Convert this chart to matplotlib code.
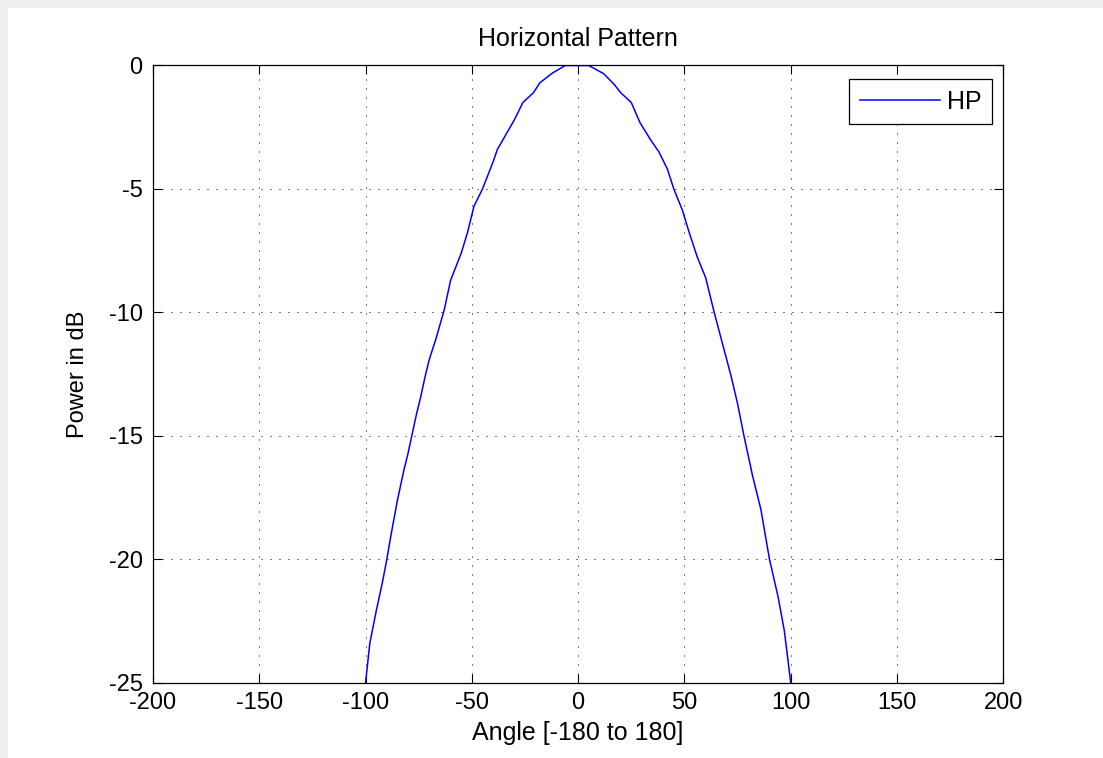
import matplotlib
matplotlib.use("Agg")
import matplotlib.pyplot as plt
from matplotlib.patches import Rectangle

plt.rcParams['font.family'] = ['Liberation Sans', 'DejaVu Sans']
plt.rcParams['axes.unicode_minus'] = False

angles = [-101, -100, -98, -95, -92, -90, -88, -85, -82, -80, -78, -76, -74, -72, -70,
          -67, -63, -60, -55, -52, -49, -45, -40, -38, -34, -30, -26, -21, -18, -12,
          -6, 0, 5, 12, 17, 20, 25, 29, 34, 38, 42, 45, 49, 52, 56, 60, 64, 68, 72,
          75, 78, 82, 86, 90, 94, 97, 100, 101]
power = [-25.5, -25.0, -23.4, -22.1, -20.9, -20.0, -19.0, -17.6, -16.4, -15.7, -14.9, -14.1, -13.4, -12.6, -11.9,
         -11.1, -9.9, -8.7, -7.6, -6.75, -5.7, -5.0, -3.9, -3.4, -2.8, -2.2, -1.5, -1.1, -0.7, -0.3,
         0.0, 0.0, 0.0, -0.33, -0.77, -1.1, -1.5, -2.3, -3.0, -3.5, -4.2, -5.0, -5.85, -6.7, -7.75, -8.6, -10.0, -11.3, -12.6,
         -13.7, -15.0, -16.6, -18.0, -20.0, -21.5, -22.9, -25.0, -25.5]

xticks = [-200, -150, -100, -50, 0, 50, 100, 150, 200]
yticks = [-25, -20, -15, -10, -5, 0]

W, H = 1103, 758
fig = plt.figure(figsize=(W / 100, H / 100), dpi=100, facecolor='#efefef')
bg = Rectangle((8 / W, 0), 1 - 8 / W, 1 - 8 / H, transform=fig.transFigure,
               facecolor='white', edgecolor='none', zorder=-10)
fig.add_artist(bg)

ax = fig.add_axes([153 / W, (H - 682.7) / H, (1003.3 - 153) / W, (682.7 - 65.5) / H])
ax.set_zorder(1)
ax.plot(angles, power, color='#0000ff', lw=1.1, label='HP')
ax.set_xlim(-200, 200)
ax.set_ylim(-25, 0)
ax.set_xticks(xticks)
ax.set_yticks(yticks)
ax.grid(True, color='black', linestyle=(0, (1, 8)), linewidth=0.72)
ax.tick_params(direction='in', length=6.5, width=0.8, top=True, right=True,
               labelsize=17, colors='black')
ax.tick_params(axis='x', pad=7)
ax.tick_params(axis='y', pad=7.5)
for s in ax.spines.values():
    s.set_linewidth(0.9)
    s.set_color('black')

ax.set_title('Horizontal Pattern', fontsize=18, pad=14)
ax.set_xlabel('Angle [-180 to 180]', fontsize=18, labelpad=5)
ax.set_ylabel('Power in dB', fontsize=17, labelpad=14)

leg = ax.legend(loc='upper right', bbox_to_anchor=(0.987, 0.978), borderaxespad=0,
                fancybox=False, edgecolor='black', framealpha=1, fontsize=18,
                handlelength=3.2, handletextpad=0.3, borderpad=0.42)
leg.get_frame().set_linewidth(0.9)

fig.savefig('out.png', dpi=100, facecolor=fig.get_facecolor())
